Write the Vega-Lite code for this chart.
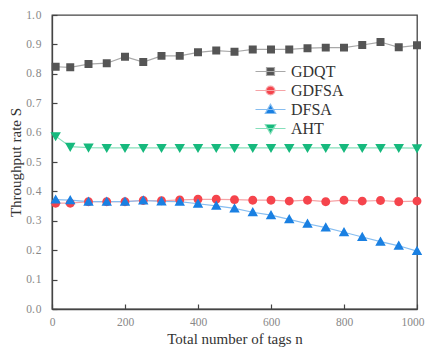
{
  "$schema": "https://vega.github.io/schema/vega-lite/v6.json",
  "width": 365,
  "height": 294,
  "autosize": "none",
  "padding": {"left": 52, "top": 15, "right": 9, "bottom": 41},
  "background": "white",
  "config": {
    "view": {"stroke": "#444", "strokeWidth": 1.3},
    "axis": {
      "grid": false,
      "domainColor": "#444",
      "domainWidth": 1.3,
      "tickColor": "#444",
      "tickSize": -5,
      "tickWidth": 1.2,
      "labelFlush": false,
      "labelFont": "Liberation Serif",
      "labelFontSize": 11.5,
      "labelColor": "#888",
      "titleFont": "Liberation Serif",
      "titleFontSize": 15,
      "titleFontWeight": "normal",
      "titleColor": "#333"
    },
    "legend": {"labelFont": "Liberation Serif", "labelFontSize": 16, "labelColor": "#333"}
  },
  "data": {
    "values": [
      {"n": 10, "alg": "GDQT", "S": 0.824}, {"n": 50, "alg": "GDQT", "S": 0.822}, {"n": 100, "alg": "GDQT", "S": 0.833}, {"n": 150, "alg": "GDQT", "S": 0.836}, {"n": 200, "alg": "GDQT", "S": 0.858}, {"n": 250, "alg": "GDQT", "S": 0.840}, {"n": 300, "alg": "GDQT", "S": 0.861}, {"n": 350, "alg": "GDQT", "S": 0.861}, {"n": 400, "alg": "GDQT", "S": 0.873}, {"n": 450, "alg": "GDQT", "S": 0.879}, {"n": 500, "alg": "GDQT", "S": 0.875}, {"n": 550, "alg": "GDQT", "S": 0.883}, {"n": 600, "alg": "GDQT", "S": 0.883}, {"n": 650, "alg": "GDQT", "S": 0.883}, {"n": 700, "alg": "GDQT", "S": 0.887}, {"n": 750, "alg": "GDQT", "S": 0.889}, {"n": 800, "alg": "GDQT", "S": 0.889}, {"n": 850, "alg": "GDQT", "S": 0.898}, {"n": 900, "alg": "GDQT", "S": 0.908}, {"n": 950, "alg": "GDQT", "S": 0.890}, {"n": 1000, "alg": "GDQT", "S": 0.897},
      {"n": 10, "alg": "GDFSA", "S": 0.360}, {"n": 50, "alg": "GDFSA", "S": 0.360}, {"n": 100, "alg": "GDFSA", "S": 0.365}, {"n": 150, "alg": "GDFSA", "S": 0.365}, {"n": 200, "alg": "GDFSA", "S": 0.365}, {"n": 250, "alg": "GDFSA", "S": 0.369}, {"n": 300, "alg": "GDFSA", "S": 0.368}, {"n": 350, "alg": "GDFSA", "S": 0.371}, {"n": 400, "alg": "GDFSA", "S": 0.373}, {"n": 450, "alg": "GDFSA", "S": 0.373}, {"n": 500, "alg": "GDFSA", "S": 0.372}, {"n": 550, "alg": "GDFSA", "S": 0.370}, {"n": 600, "alg": "GDFSA", "S": 0.370}, {"n": 650, "alg": "GDFSA", "S": 0.367}, {"n": 700, "alg": "GDFSA", "S": 0.370}, {"n": 750, "alg": "GDFSA", "S": 0.365}, {"n": 800, "alg": "GDFSA", "S": 0.370}, {"n": 850, "alg": "GDFSA", "S": 0.367}, {"n": 900, "alg": "GDFSA", "S": 0.369}, {"n": 950, "alg": "GDFSA", "S": 0.365}, {"n": 1000, "alg": "GDFSA", "S": 0.367},
      {"n": 10, "alg": "DFSA", "S": 0.372}, {"n": 50, "alg": "DFSA", "S": 0.370}, {"n": 100, "alg": "DFSA", "S": 0.365}, {"n": 150, "alg": "DFSA", "S": 0.365}, {"n": 200, "alg": "DFSA", "S": 0.365}, {"n": 250, "alg": "DFSA", "S": 0.369}, {"n": 300, "alg": "DFSA", "S": 0.366}, {"n": 350, "alg": "DFSA", "S": 0.365}, {"n": 400, "alg": "DFSA", "S": 0.358}, {"n": 450, "alg": "DFSA", "S": 0.351}, {"n": 500, "alg": "DFSA", "S": 0.342}, {"n": 550, "alg": "DFSA", "S": 0.329}, {"n": 600, "alg": "DFSA", "S": 0.319}, {"n": 650, "alg": "DFSA", "S": 0.305}, {"n": 700, "alg": "DFSA", "S": 0.290}, {"n": 750, "alg": "DFSA", "S": 0.277}, {"n": 800, "alg": "DFSA", "S": 0.261}, {"n": 850, "alg": "DFSA", "S": 0.245}, {"n": 900, "alg": "DFSA", "S": 0.229}, {"n": 950, "alg": "DFSA", "S": 0.215}, {"n": 1000, "alg": "DFSA", "S": 0.197},
      {"n": 10, "alg": "AHT", "S": 0.588}, {"n": 50, "alg": "AHT", "S": 0.552}, {"n": 100, "alg": "AHT", "S": 0.549}, {"n": 150, "alg": "AHT", "S": 0.548}, {"n": 200, "alg": "AHT", "S": 0.548}, {"n": 250, "alg": "AHT", "S": 0.548}, {"n": 300, "alg": "AHT", "S": 0.548}, {"n": 350, "alg": "AHT", "S": 0.548}, {"n": 400, "alg": "AHT", "S": 0.548}, {"n": 450, "alg": "AHT", "S": 0.548}, {"n": 500, "alg": "AHT", "S": 0.548}, {"n": 550, "alg": "AHT", "S": 0.548}, {"n": 600, "alg": "AHT", "S": 0.548}, {"n": 650, "alg": "AHT", "S": 0.548}, {"n": 700, "alg": "AHT", "S": 0.548}, {"n": 750, "alg": "AHT", "S": 0.548}, {"n": 800, "alg": "AHT", "S": 0.548}, {"n": 850, "alg": "AHT", "S": 0.548}, {"n": 900, "alg": "AHT", "S": 0.548}, {"n": 950, "alg": "AHT", "S": 0.548}, {"n": 1000, "alg": "AHT", "S": 0.547}
    ]
  },
  "encoding": {
    "x": {
      "field": "n", "type": "quantitative",
      "scale": {"domain": [0, 1000], "nice": false},
      "axis": {
        "values": [0, 200, 400, 600, 800, 1000], "format": "d", "title": "Total number of tags n", "labelPadding": 12, "titlePadding": 4,
        "labelAlign": {"expr": "datum.value == 1000 ? 'right' : 'center'"},
        "labelOffset": {"expr": "datum.value == 1000 ? 7 : 0"}
      }
    },
    "y": {
      "field": "S", "type": "quantitative",
      "scale": {"domain": [0, 1], "nice": false},
      "axis": {"values": [0, 0.1, 0.2, 0.3, 0.4, 0.5, 0.6, 0.7, 0.8, 0.9, 1.0], "labelExpr": "replace(format(datum.value, '.1f'), '.', '.\u200a')", "title": "Throughput rate S", "labelPadding": 16, "titlePadding": 2}
    }
  },
  "layer": [
    {
      "mark": {"type": "line", "strokeWidth": 1.2},
      "encoding": {
        "stroke": {
          "field": "alg", "type": "nominal",
          "scale": {"domain": ["GDQT", "GDFSA", "DFSA", "AHT"], "range": ["#a8a8a8", "#f6a3a6", "#86bdf0", "#86dfbb"]},
          "legend": {
            "orient": "none", "legendX": 208, "legendY": 46, "title": null,
            "symbolSize": 361, "symbolStrokeWidth": 1.2, "rowPadding": 0, "labelOffset": 10, "padding": 0
          }
        }
      }
    },
    {
      "mark": {"type": "point", "filled": true, "opacity": 1, "size": 361},
      "encoding": {
        "fill": {
          "field": "alg", "type": "nominal",
          "scale": {"domain": ["GDQT", "GDFSA", "DFSA", "AHT"], "range": ["#555555", "#f5444c", "#1a80e2", "#16b97d"]},
          "legend": {
            "orient": "none", "legendX": 208, "legendY": 46, "title": null,
            "symbolSize": 361, "symbolStrokeWidth": 1.2, "rowPadding": 0, "labelOffset": 10, "padding": 0
          }
        },
        "shape": {
          "field": "alg", "type": "nominal",
          "scale": {"domain": ["GDQT", "GDFSA", "DFSA", "AHT"], "range": [
            "M-1.58,0H1.58M-0.42,-0.42H0.42V0.42H-0.42Z",
            "M-1.58,0H1.58M0.47,0A0.47,0.47,0,1,1,-0.47,0A0.47,0.47,0,1,1,0.47,0Z",
            "M-1.58,0H1.58M0,-0.55L0.55,0.42H-0.55Z",
            "M-1.58,0H1.58M0,0.55L0.55,-0.42H-0.55Z"
          ]},
          "legend": {
            "orient": "none", "legendX": 208, "legendY": 46, "title": null,
            "symbolSize": 361, "symbolStrokeWidth": 1.2, "rowPadding": 0, "labelOffset": 10, "padding": 0
          }
        }
      }
    }
  ]
}
